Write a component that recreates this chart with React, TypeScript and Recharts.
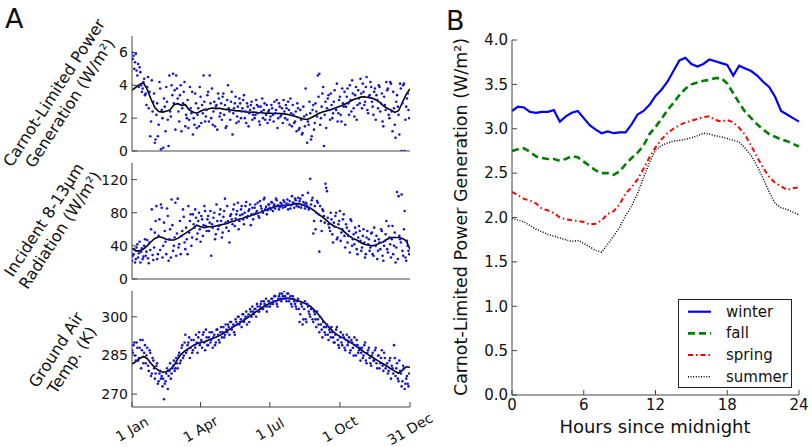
import React from "react";
import { ComposedChart, LineChart, Line, Scatter, XAxis, YAxis, Legend } from "recharts";

const FONT = '"DejaVu Sans", Verdana, sans-serif';

// ---------- panel A: daily values over the year ----------
const evenDays = [
  0, 2, 4, 6, 8, 10, 12, 14, 16, 18,
  20, 22, 24, 26, 28, 30, 32, 34, 36, 38,
  40, 42, 44, 46, 48, 50, 52, 54, 56, 58,
  60, 62, 64, 66, 68, 70, 72, 74, 76, 78,
  80, 82, 84, 86, 88, 90, 92, 94, 96, 98,
  100, 102, 104, 106, 108, 110, 112, 114, 116, 118,
  120, 122, 124, 126, 128, 130, 132, 134, 136, 138,
  140, 142, 144, 146, 148, 150, 152, 154, 156, 158,
  160, 162, 164, 166, 168, 170, 172, 174, 176, 178,
  180, 182, 184, 186, 188, 190, 192, 194, 196, 198,
  200, 202, 204, 206, 208, 210, 212, 214, 216, 218,
  220, 222, 224, 226, 228, 230, 232, 234, 236, 238,
  240, 242, 244, 246, 248, 250, 252, 254, 256, 258,
  260, 262, 264, 266, 268, 270, 272, 274, 276, 278,
  280, 282, 284, 286, 288, 290, 292, 294, 296, 298,
  300, 302, 304, 306, 308, 310, 312, 314, 316, 318,
  320, 322, 324, 326, 328, 330, 332, 334, 336, 338,
  340, 342, 344, 346, 348, 350, 352, 354, 356, 358,
  360, 362, 364,
];

const oddDays = [
  1, 3, 5, 7, 9, 11, 13, 15, 17, 19,
  21, 23, 25, 27, 29, 31, 33, 35, 37, 39,
  41, 43, 45, 47, 49, 51, 53, 55, 57, 59,
  61, 63, 65, 67, 69, 71, 73, 75, 77, 79,
  81, 83, 85, 87, 89, 91, 93, 95, 97, 99,
  101, 103, 105, 107, 109, 111, 113, 115, 117, 119,
  121, 123, 125, 127, 129, 131, 133, 135, 137, 139,
  141, 143, 145, 147, 149, 151, 153, 155, 157, 159,
  161, 163, 165, 167, 169, 171, 173, 175, 177, 179,
  181, 183, 185, 187, 189, 191, 193, 195, 197, 199,
  201, 203, 205, 207, 209, 211, 213, 215, 217, 219,
  221, 223, 225, 227, 229, 231, 233, 235, 237, 239,
  241, 243, 245, 247, 249, 251, 253, 255, 257, 259,
  261, 263, 265, 267, 269, 271, 273, 275, 277, 279,
  281, 283, 285, 287, 289, 291, 293, 295, 297, 299,
  301, 303, 305, 307, 309, 311, 313, 315, 317, 319,
  321, 323, 325, 327, 329, 331, 333, 335, 337, 339,
  341, 343, 345, 347, 349, 351, 353, 355, 357, 359,
  361, 363,
];

const meanDays = [
  0, 5, 10, 15, 20, 25, 30, 35, 40, 45,
  50, 55, 60, 65, 70, 75, 80, 85, 90, 95,
  100, 105, 110, 115, 120, 125, 130, 135, 140, 145,
  150, 155, 160, 165, 170, 175, 180, 185, 190, 195,
  200, 205, 210, 215, 220, 225, 230, 235, 240, 245,
  250, 255, 260, 265, 270, 275, 280, 285, 290, 295,
  300, 305, 310, 315, 320, 325, 330, 335, 340, 345,
  350, 355, 360, 365,
];

const powerEven = [
  6.0, 5.8, 5.4, 4.9, 5.3, 5.1, 4.0, 3.8, 4.4, 3.5,
  3.9, 2.6, 0.9, 4.3, 3.0, 0.5, 2.2, 0.9, 4.2, 0.1,
  2.0, 3.2, 1.2, 3.0, 0.3, 2.4, 4.0, 4.7, 3.7, 4.6,
  3.2, 1.8, 4.0, 2.6, 3.6, 1.5, 2.0, 1.4, 3.9, 2.3,
  1.0, 1.6, 2.9, 2.2, 1.5, 3.3, 2.8, 4.6, 1.8, 2.5,
  3.6, 4.6, 2.0, 1.6, 3.0, 2.7, 1.3, 3.2, 2.3, 1.9,
  3.5, 2.8, 1.5, 4.0, 2.4, 3.0, 1.0, 2.6, 3.3, 2.1,
  1.8, 2.9, 2.4, 3.1, 2.0, 1.7, 2.7, 2.3, 2.8, 1.9,
  2.6, 2.2, 2.8, 2.7, 1.6, 2.4, 2.0, 2.9, 2.2, 1.7,
  2.5, 2.1, 2.6, 1.8, 2.3, 3.1, 2.0, 2.7, 2.2, 1.7,
  2.4, 2.8, 1.9, 2.5, 3.2, 1.5, 2.2, 1.8, 1.2, 2.6,
  1.4, 1.9, 1.1, 2.1, 3.8, 0.5, 1.6, 2.3, 0.9, 2.8,
  1.7, 2.4, 4.6, 4.7, 2.0, 3.5, 0.3, 3.0, 2.6, 3.4,
  1.9, 2.8, 2.3, 3.7, 2.5, 1.8, 3.1, 2.2, 3.8, 2.7,
  1.6, 3.3, 2.9, 4.0, 2.4, 3.5, 2.1, 3.9, 2.8, 3.2,
  4.4, 2.6, 3.6, 3.0, 4.5, 2.3, 3.4, 3.9, 2.7, 3.6,
  1.9, 3.1, 4.0, 2.4, 3.5, 1.5, 2.8, 4.2, 3.8, 2.0,
  4.1, 1.2, 2.6, 0.8, 3.4, 2.2, 4.1, 0.0, 4.0, 0.0,
  2.7, 3.5, 2.0,
];

const powerOdd = [
  5.6, 5.0, 5.9, 4.6, 3.9, 4.8, 3.6, 4.2, 3.4, 2.8,
  4.5, 3.6, 1.8, 2.4, 3.5, 0.7, 2.9, 1.6, 3.8, 2.5,
  0.2, 2.7, 3.9, 1.9, 4.6, 2.1, 3.4, 2.9, 1.3, 3.8,
  2.4, 3.4, 1.2, 2.9, 4.2, 2.2, 3.1, 1.9, 2.6, 3.6,
  2.0, 3.5, 1.4, 2.6, 3.9, 1.7, 2.3, 3.0, 2.1, 3.4,
  1.8, 2.9, 3.8, 2.4, 1.5, 2.8, 3.5, 2.1, 2.9, 3.3,
  2.2, 1.4, 3.1, 2.6, 1.9, 3.6, 2.3, 2.9, 1.7, 2.7,
  3.2, 2.0, 2.6, 3.4, 2.4, 2.9, 1.5, 2.5, 3.0, 2.2,
  2.0, 3.1, 2.3, 1.8, 2.7, 3.2, 2.5, 1.9, 2.8, 2.4,
  1.9, 2.8, 2.2, 3.0, 2.5, 1.4, 2.9, 2.1, 2.6, 3.1,
  2.0, 2.6, 3.0, 1.6, 2.3, 2.8, 1.7, 2.4, 2.9, 1.3,
  2.5, 1.0, 2.7, 1.5, 2.2, 1.8, 3.0, 0.7, 2.5, 1.3,
  2.9, 2.1, 3.3, 1.6, 2.7, 3.9, 2.2, 1.4, 3.2, 2.5,
  3.5, 2.0, 3.0, 2.6, 4.1, 2.3, 3.3, 1.8, 2.9, 3.6,
  2.7, 3.8, 2.2, 3.1, 4.3, 2.6, 3.4, 1.9, 3.7, 2.9,
  3.5, 4.1, 2.8, 3.9, 2.5, 3.3, 4.2, 3.0, 2.2, 3.8,
  3.4, 2.6, 3.9, 2.9, 1.8, 3.3, 2.5, 3.7, 2.2, 4.2,
  2.4, 3.6, 1.6, 3.0, 2.7, 1.0, 3.8, 2.9, 4.1, 1.9,
  3.2, 2.5,
];

const powerMean = [
  3.70, 3.88, 4.05, 4.15, 3.75, 3.15, 2.65, 2.40, 2.37, 2.42,
  2.50, 2.82, 2.88, 2.78, 2.82, 2.50, 2.38, 2.30, 2.42, 2.52,
  2.56, 2.62, 2.58, 2.60, 2.55, 2.52, 2.50, 2.46, 2.44, 2.42,
  2.38, 2.36, 2.37, 2.34, 2.33, 2.30, 2.31, 2.28, 2.30, 2.28,
  2.26, 2.22, 2.16, 2.10, 2.02, 1.95, 1.92, 2.02, 2.15, 2.28,
  2.38, 2.44, 2.50, 2.58, 2.68, 2.75, 2.86, 2.98, 3.12, 3.20,
  3.28, 3.30, 3.26, 3.22, 3.12, 2.98, 2.75, 2.60, 2.50, 2.35,
  2.45, 2.95, 3.45, 3.78,
];

const radiationEven = [
  22, 30, 20, 38, 26, 45, 33, 24, 40, 28,
  47, 19, 35, 84, 23, 56, 88, 30, 72, 90,
  26, 68, 45, 85, 22, 60, 96, 34, 50, 28,
  97, 42, 30, 58, 75, 36, 48, 88, 70, 40,
  78, 62, 74, 55, 80, 45, 72, 65, 82, 58,
  76, 68, 28, 62, 80, 54, 70, 64, 84, 50,
  75, 97, 62, 70, 44, 78, 66, 90, 73, 82,
  60, 77, 88, 72, 80, 93, 76, 84, 65, 86,
  78, 90, 82, 76, 94, 85, 80, 98, 87, 83,
  90, 84, 92, 88, 85, 95, 89, 87, 91, 86,
  93, 88, 96, 90, 85, 100, 92, 97, 88, 98,
  94, 86, 101, 90, 92, 88, 84, 121, 95, 55,
  88, 80, 92, 33, 70, 84, 76, 115, 106, 66,
  58, 72, 44, 63, 80, 50, 70, 46, 60, 78,
  38, 62, 52, 32, 70, 48, 42, 56, 30, 64,
  46, 38, 60, 26, 50, 42, 34, 55, 30, 62,
  40, 24, 48, 36, 58, 22, 46, 70, 32, 50,
  26, 64, 40, 20, 105, 100, 48, 102, 28, 82,
  22, 40, 30,
];

const radiationOdd = [
  28, 36, 24, 42, 31, 20, 37, 27, 48, 33,
  25, 44, 60, 29, 38, 70, 24, 52, 35, 86,
  40, 58, 30, 76, 48, 26, 65, 40, 92, 55,
  38, 70, 52, 84, 44, 62, 30, 56, 78, 50,
  66, 84, 48, 70, 60, 76, 52, 88, 64, 72,
  58, 82, 66, 74, 48, 90, 60, 78, 70, 56,
  82, 68, 88, 58, 76, 72, 84, 64, 78, 92,
  70, 84, 78, 66, 88, 74, 82, 90, 78, 72,
  86, 80, 92, 74, 88, 82, 96, 84, 78, 90,
  86, 93, 82, 90, 97, 88, 84, 92, 89, 95,
  87, 91, 84, 94, 89, 92, 86, 95, 90, 87,
  97, 89, 93, 85, 91, 104, 86, 90, 98, 70,
  60, 94, 78, 88, 58, 82, 68, 110, 74, 62,
  80, 54, 68, 76, 48, 66, 82, 56, 72, 52,
  66, 44, 58, 72, 40, 54, 62, 36, 50, 58,
  34, 52, 44, 30, 58, 48, 38, 56, 28, 46,
  52, 34, 44, 60, 28, 40, 54, 36, 64, 42,
  48, 30, 56, 38, 24, 52, 44, 34, 60, 26,
  46, 34,
];

const radiationMean = [
  37, 34, 34, 36, 40, 45, 49, 51, 50, 48,
  47, 47, 49, 52, 55, 58, 61, 65, 63, 62,
  63, 63, 64, 65, 66, 67, 69, 70, 72, 73,
  75, 76, 78, 79, 81, 83, 85, 86, 88, 88,
  89, 89, 90, 91, 91, 89, 87, 85, 82, 78,
  75, 71, 67, 64, 62, 60, 56, 52, 49, 47,
  44, 42, 41, 40, 41, 43, 45, 48, 50, 50,
  50, 49, 46, 36,
];

const tempEven = [
  287, 289, 285, 290, 283, 288, 280, 291, 286, 282,
  288, 279, 286, 278, 283, 276, 281, 274, 278, 276,
  273, 268, 275, 280, 277, 282, 278, 281, 279, 284,
  280, 286, 283, 289, 285, 293, 287, 290, 284, 291,
  287, 289, 293, 286, 294, 290, 288, 294, 287, 292,
  289, 294, 291, 288, 293, 290, 295, 291, 294, 292,
  296, 293, 295, 297, 293, 298, 296, 294, 299, 297,
  300, 298, 296, 301, 299, 302, 300, 298, 302, 304,
  301, 303, 305, 302, 304, 306, 303, 305, 307, 304,
  306, 305, 307, 306, 308, 305, 307, 309, 306, 308,
  310, 307, 309, 306, 308, 304, 307, 305, 303, 307,
  298, 305, 297, 303, 299, 305, 302, 300, 303, 298,
  301, 296, 299, 294, 297, 292, 296, 293, 297, 291,
  294, 296, 292, 290, 295, 291, 288, 294, 289, 292,
  287, 293, 290, 286, 291, 288, 292, 285, 289, 287,
  283, 288, 285, 290, 282, 287, 284, 281, 286, 283,
  288, 280, 285, 282, 287, 279, 284, 281, 278, 283,
  276, 280, 289, 277, 282, 275, 279, 273, 281, 272,
  276, 274, 278,
];

const tempOdd = [
  286, 290, 283, 288, 284, 291, 287, 282, 289, 285,
  281, 287, 277, 284, 280, 278, 282, 275, 279, 277,
  276, 274, 278, 272, 279, 276, 280, 283, 280, 282,
  285, 282, 288, 284, 290, 286, 289, 292, 288, 286,
  291, 288, 290, 292, 289, 291, 293, 290, 295, 289,
  292, 290, 294, 292, 289, 295, 293, 290, 296, 294,
  292, 297, 294, 296, 298, 295, 297, 293, 298, 300,
  297, 299, 301, 298, 300, 297, 301, 303, 300, 302,
  303, 300, 304, 302, 305, 303, 306, 304, 302, 306,
  304, 307, 305, 308, 306, 304, 308, 307, 309, 307,
  308, 306, 309, 307, 305, 308, 306, 304, 306, 303,
  301, 304, 299, 306, 298, 304, 301, 303, 299, 302,
  299, 302, 297, 300, 295, 298, 294, 296, 293, 295,
  292, 294, 290, 293, 296, 289, 292, 290, 293, 288,
  291, 289, 292, 287, 290, 285, 289, 291, 286, 288,
  286, 284, 289, 283, 286, 288, 282, 285, 283, 287,
  282, 285, 280, 284, 281, 286, 280, 282, 279, 284,
  281, 278, 284, 280, 276, 283, 278, 275, 280, 274,
  277, 273,
];

const tempMean = [
  281.7, 282.6, 283.8, 284.6, 283.8, 281.9, 280.3, 279.2, 278.5, 278.7,
  279.6, 281.0, 283.6, 285.6, 286.9, 287.8, 288.8, 289.5, 290.0, 290.3,
  290.9, 291.5, 292.1, 292.7, 293.6, 294.6, 295.5, 296.5, 297.3, 298.3,
  299.3, 300.3, 301.4, 302.4, 303.4, 304.4, 305.1, 305.7, 306.2, 306.7,
  307.2, 307.3, 306.9, 306.5, 306.0, 305.4, 304.8, 303.9, 302.4, 300.8,
  298.9, 297.1, 295.6, 294.0, 292.9, 292.1, 291.3, 290.4, 289.5, 288.4,
  287.4, 286.3, 285.3, 284.4, 283.5, 282.6, 281.7, 280.8, 279.8, 278.9,
  278.1, 279.2, 280.6, 280.4,
];

const monthTicks = [0, 90, 181, 273, 365];
const monthLabels = ["1 Jan", "1 Apr", "1 Jul", "1 Oct", "31 Dec"];

// ---------- panel B: mean daily cycle by season ----------
const hours = [
  0, 0.5, 1, 1.5, 2, 2.5, 3, 3.5, 4, 4.5,
  5, 5.5, 6, 6.5, 7, 7.5, 8, 8.5, 9, 9.5,
  10, 10.5, 11, 11.5, 12, 12.5, 13, 13.5, 14, 14.5,
  15, 15.5, 16, 16.5, 17, 17.5, 18, 18.5, 19, 19.5,
  20, 20.5, 21, 21.5, 22, 22.5, 23, 23.5, 24,
];
const winter = [
  3.20, 3.25, 3.24, 3.19, 3.18, 3.19, 3.19, 3.21, 3.08, 3.14,
  3.18, 3.20, 3.12, 3.04, 2.99, 2.95, 2.97, 2.95, 2.96, 2.96,
  3.05, 3.16, 3.20, 3.27, 3.37, 3.44, 3.53, 3.65, 3.77, 3.80,
  3.73, 3.70, 3.73, 3.78, 3.76, 3.74, 3.72, 3.60, 3.71, 3.68,
  3.65, 3.60, 3.53, 3.47, 3.36, 3.20, 3.16, 3.12, 3.08,
];
const fall = [
  2.75, 2.77, 2.78, 2.74, 2.69, 2.67, 2.66, 2.66, 2.64, 2.66,
  2.69, 2.68, 2.63, 2.58, 2.53, 2.50, 2.50, 2.48, 2.52, 2.60,
  2.67, 2.73, 2.81, 2.94, 3.02, 3.11, 3.21, 3.29, 3.38, 3.45,
  3.50, 3.52, 3.54, 3.55, 3.57, 3.57, 3.51, 3.40, 3.29, 3.19,
  3.12, 3.05, 2.99, 2.94, 2.91, 2.88, 2.86, 2.83, 2.80,
];
const spring = [
  2.29, 2.25, 2.21, 2.19, 2.16, 2.10, 2.08, 2.05, 2.00, 1.98,
  1.97, 1.96, 1.95, 1.92, 1.93, 1.97, 2.04, 2.07, 2.15, 2.27,
  2.34, 2.43, 2.55, 2.68, 2.79, 2.88, 2.95, 3.00, 3.04, 3.07,
  3.09, 3.11, 3.13, 3.14, 3.10, 3.08, 3.10, 3.07, 3.01, 2.93,
  2.81, 2.68, 2.56, 2.46, 2.39, 2.35, 2.31, 2.33, 2.34,
];
const summer = [
  1.99, 1.97, 1.95, 1.91, 1.87, 1.84, 1.81, 1.79, 1.77, 1.75,
  1.73, 1.74, 1.71, 1.67, 1.63, 1.61, 1.70, 1.79, 1.89, 2.02,
  2.13, 2.27, 2.45, 2.62, 2.76, 2.81, 2.84, 2.86, 2.87, 2.88,
  2.90, 2.92, 2.95, 2.94, 2.92, 2.91, 2.89, 2.87, 2.85, 2.78,
  2.70, 2.58, 2.44, 2.29, 2.16, 2.11, 2.09, 2.06, 2.03,
];
const hourTicks = [0, 6, 12, 18, 24];
const powerTicks = [0, 0.5, 1, 1.5, 2, 2.5, 3, 3.5, 4];

const seasons = [
  { key: "winter", color: "#0000ff", width: 2.2, dash: undefined },
  { key: "fall", color: "#008000", width: 2.6, dash: "7 4" },
  { key: "spring", color: "#ff0000", width: 2, dash: "5 3 1.5 3" },
  { key: "summer", color: "#000000", width: 1.5, dash: "1 1.6" },
];

const AXIS = "#444";

const Dot = (p: any) => <circle cx={p.cx} cy={p.cy} r={1.3} fill="#1414d2" />;

const DateTick = (p: any) => {
  const label = monthLabels[monthTicks.indexOf(p.payload.value)];
  return (
    <g transform={`translate(${p.x},${p.y}) rotate(-30)`}>
      <text x={0} y={0} dy="0.35em" textAnchor="middle" fontSize={14} fill="#111">
        {label}
      </text>
    </g>
  );
};

interface YearPanelProps {
  top: number;
  height: number;
  marginTop: number;
  axisHeight: number;
  even: number[];
  odd: number[];
  mean: number[];
  domain: [number, number];
  ticks: number[];
  showDates?: boolean;
}

function YearPanel({ top, height, marginTop, axisHeight, even, odd, mean, domain, ticks, showDates }: YearPanelProps) {
  const points = [
    ...evenDays.map((d, i) => ({ d, v: even[i] })),
    ...oddDays.map((d, i) => ({ d, v: odd[i] })),
  ];
  const smooth = meanDays.map((d, i) => ({ d, v: mean[i] }));
  return (
    <div style={{ position: "absolute", left: 0, top, width: 440, height }}>
      <ComposedChart width={440} height={height} margin={{ top: marginTop, right: 30, bottom: 0, left: 0 }}>
        <XAxis
          xAxisId="b"
          type="number"
          dataKey="d"
          domain={[0, 365]}
          ticks={monthTicks}
          interval={0}
          height={axisHeight}
          tickSize={-5}
          tickMargin={27}
          tick={showDates ? <DateTick /> : false}
          stroke={AXIS}
          allowDataOverflow
        />
        <XAxis
          xAxisId="t"
          orientation="top"
          type="number"
          dataKey="d"
          domain={[0, 365]}
          ticks={monthTicks}
          interval={0}
          height={0}
          tickSize={-5}
          tick={false}
          stroke={AXIS}
          allowDataOverflow
        />
        <YAxis
          yAxisId="l"
          type="number"
          dataKey="v"
          domain={domain}
          ticks={ticks}
          interval={0}
          width={132}
          tickSize={-5}
          tickMargin={9}
          tick={{ fontSize: 14, fill: "#111" }}
          stroke={AXIS}
          allowDataOverflow
        />
        <YAxis
          yAxisId="r"
          orientation="right"
          type="number"
          dataKey="v"
          domain={domain}
          ticks={ticks}
          interval={0}
          width={0}
          tickSize={-5}
          tick={false}
          stroke={AXIS}
          allowDataOverflow
        />
        <Scatter xAxisId="t" yAxisId="r" data={points} dataKey="v" shape={Dot} isAnimationActive={false} />
        <Line
          xAxisId="b"
          yAxisId="l"
          data={smooth}
          dataKey="v"
          type="linear"
          stroke="#000"
          strokeWidth={1.6}
          dot={false}
          activeDot={false}
          isAnimationActive={false}
        />
      </ComposedChart>
    </div>
  );
}

const SeasonLegend = () => (
  <svg width={114} height={89} style={{ display: "block" }}>
    <rect x={0.5} y={0.5} width={113} height={88} fill="#fff" stroke="#222" />
    {seasons.map((s, i) => {
      const y = 12.7 + i * 21.7;
      return (
        <g key={s.key}>
          <line x1={10} x2={33} y1={y} y2={y} stroke={s.color} strokeWidth={s.width} strokeDasharray={s.dash} />
          <text x={48} y={y} dominantBaseline="central" fontSize={15} fill="#111">
            {s.key}
          </text>
        </g>
      );
    })}
  </svg>
);

function DailyCycle() {
  const table = hours.map((h, i) => ({
    h,
    winter: winter[i],
    fall: fall[i],
    spring: spring[i],
    summer: summer[i],
  }));
  return (
    <div style={{ position: "absolute", left: 420, top: 0, width: 392, height: 447 }}>
      <LineChart width={392} height={447} data={table} margin={{ top: 40, right: 13, bottom: 0, left: 0 }}>
        <XAxis
          xAxisId="b"
          type="number"
          dataKey="h"
          domain={[0, 24]}
          ticks={hourTicks}
          interval={0}
          height={52}
          tickSize={-5}
          tickMargin={9}
          tick={{ fontSize: 15, fill: "#111" }}
          stroke={AXIS}
        />
        <XAxis
          xAxisId="t"
          orientation="top"
          type="number"
          dataKey="h"
          domain={[0, 24]}
          ticks={hourTicks}
          interval={0}
          height={0}
          tickSize={-5}
          tick={false}
          stroke={AXIS}
        />
        <YAxis
          yAxisId="l"
          type="number"
          domain={[0, 4]}
          ticks={powerTicks}
          interval={0}
          width={92}
          tickSize={-5}
          tickMargin={9}
          tickFormatter={(v: number) => v.toFixed(1)}
          tick={{ fontSize: 15, fill: "#111" }}
          stroke={AXIS}
        />
        <YAxis
          yAxisId="r"
          orientation="right"
          type="number"
          domain={[0, 4]}
          ticks={powerTicks}
          interval={0}
          width={0}
          tickSize={-5}
          tick={false}
          stroke={AXIS}
        />
        <Legend
          layout="vertical"
          align="center"
          verticalAlign="middle"
          content={() => <SeasonLegend />}
          wrapperStyle={{ left: 258, top: 299, width: 114, height: 89 }}
        />
        {seasons.map((s, i) => (
          <Line
            key={s.key}
            xAxisId={i < 2 ? "b" : "t"}
            yAxisId={i < 2 ? "l" : "r"}
            dataKey={s.key}
            type="linear"
            stroke={s.color}
            strokeWidth={s.width}
            strokeDasharray={s.dash}
            dot={false}
            activeDot={false}
            isAnimationActive={false}
          />
        ))}
      </LineChart>
    </div>
  );
}

export default function App() {
  return (
    <div
      style={{
        position: "absolute",
        left: 0,
        top: 0,
        width: 812,
        height: 447,
        background: "#fff",
        fontFamily: FONT,
        overflow: "hidden",
      }}
    >
      <YearPanel top={0} height={160} marginTop={36} axisHeight={9} even={powerEven} odd={powerOdd} mean={powerMean} domain={[0, 7]} ticks={[0, 2, 4, 6]} />
      <YearPanel top={155} height={136} marginTop={8} axisHeight={12} even={radiationEven} odd={radiationOdd} mean={radiationMean} domain={[0, 140]} ticks={[0, 40, 80, 120]} />
      <YearPanel top={284} height={163} marginTop={7} axisHeight={40} even={tempEven} odd={tempOdd} mean={tempMean} domain={[265, 310]} ticks={[270, 285, 300]} showDates />
      <DailyCycle />
      <svg width={812} height={447} style={{ position: "absolute", left: 0, top: 0, pointerEvents: "none" }}>
        <g fill="#111" fontFamily={FONT}>
          <text x={5} y={28} fontSize={27}>A</text>
          <text x={446} y={30} fontSize={27}>B</text>
          <g transform="translate(62,98) rotate(-57)" fontSize={16} textAnchor="middle">
            <text y={-9.5} dominantBaseline="central">Carnot-Limited Power</text>
            <text y={9.5} dominantBaseline="central">Generation (W/m²)</text>
          </g>
          <g transform="translate(52,225) rotate(-57)" fontSize={16} textAnchor="middle">
            <text y={-9.5} dominantBaseline="central">Incident 8-13µm</text>
            <text y={9.5} dominantBaseline="central">Radiation (W/m²)</text>
          </g>
          <g transform="translate(64,355) rotate(-57)" fontSize={16} textAnchor="middle">
            <text y={-9.5} dominantBaseline="central">Ground Air</text>
            <text y={9.5} dominantBaseline="central">Temp. (K)</text>
          </g>
          <text transform="translate(461,217) rotate(-90)" fontSize={17.5} textAnchor="middle" dominantBaseline="central">
            Carnot-Limited Power Generation (W/m²)
          </text>
          <text x={655} y={433} fontSize={18} textAnchor="middle">
            Hours since midnight
          </text>
        </g>
      </svg>
    </div>
  );
}
